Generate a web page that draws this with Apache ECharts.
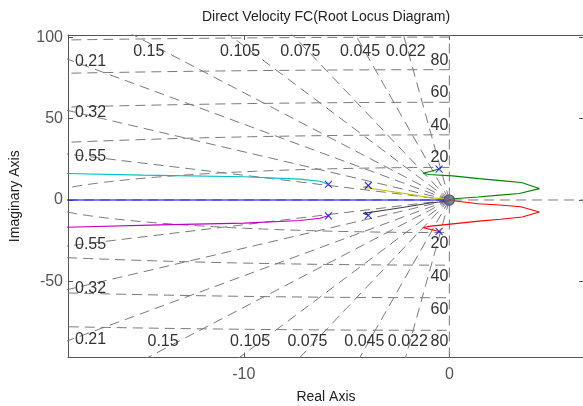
<!DOCTYPE html>
<html>
<head>
<meta charset="utf-8">
<script src="https://cdn.jsdelivr.net/npm/echarts@6/dist/echarts.min.js"></script>
<style>
  html, body { margin: 0; padding: 0; background: #ffffff; }
  #chart { width: 583px; height: 406px; }
</style>
</head>
<body>
<div id="chart"></div>
<script>
// ---- Root locus data (real, imaginary) ----
const polesUpper = [[-5.88, 9.6], [-3.94, 8.9], [-0.50, 19.0]];
const polesLower = [[-5.88, -9.7], [-3.94, -9.4], [-0.50, -19.3]];
const zeros = [[0, 0]];

const branchBlue = [[0, 0], [-18.6, 0]];
const branchGreen = [[-0.50, 19.0], [-0.90, 17.6], [-1.28, 16.4], [-1.00, 15.7], [0.15, 14.8],
  [1.45, 13.1], [2.50, 11.9], [3.50, 10.7], [4.38, 7.0], [3.40, 4.0], [2.45, 3.0],
  [1.40, 1.8], [0.20, 0.8], [0, 0]];
const branchRed = [[-0.50, -19.3], [-0.90, -18.1], [-1.28, -17.0], [-1.00, -16.2], [0.05, -14.8],
  [1.45, -13.0], [2.50, -11.8], [3.55, -10.4], [4.38, -7.4], [3.48, -4.1], [2.45, -3.1],
  [1.40, -2.3], [0.20, -0.5], [0, 0]];
const branchCyan = [[-5.88, 9.6], [-6.30, 11.5], [-7.27, 12.8], [-10.0, 14.3], [-14.9, 15.3], [-18.6, 16.3]];
const branchMagenta = [[-5.88, -9.7], [-6.30, -11.2], [-7.27, -12.6], [-10.0, -14.2], [-14.1, -15.3], [-18.6, -16.7]];
const branchYellow = [[-3.94, 8.9], [-4.20, 7.8], [-3.06, 5.7], [-1.92, 3.5], [-0.95, 1.4], [-0.14, 0.6], [0, 0]];
const branchDark = [[-3.94, -9.4], [-4.20, -8.2], [-3.00, -6.0], [-1.90, -3.8], [-0.95, -1.8], [-0.14, -0.8], [0, 0]];

// ---- s-plane grid values ----
const zetaValues = [0.022, 0.045, 0.075, 0.105, 0.15, 0.21, 0.32, 0.55];
const wnCircles = [20, 40, 60, 80, 100];
const wnLabels = [20, 40, 60, 80];

// ---- axis ticks ----
const xTicks = [-10, 0];
const yTicks = [-50, 0, 50, 100];

const XMIN = -18.55, XMAX = 6.55, YMIN = -96.7, YMAX = 101.3;
const GRID = { left: 68, top: 35, width: 516, height: 322.5 };
const FONT = '"Liberation Sans", Arial, Helvetica, sans-serif';
const GRID_COLOR = '#7a7a7a';
const AXIS_COLOR = '#555555';

const chart = echarts.init(document.getElementById('chart'), null, { renderer: 'canvas' });

function gridLine(data) {
  return {
    type: 'line', data: data, symbol: 'none', silent: true, clip: true, z: 1,
    lineStyle: { color: GRID_COLOR, width: 1, type: [10, 6] }
  };
}

function branch(data, color) {
  return {
    type: 'line', data: data, symbol: 'none', silent: true, clip: true, z: 3,
    lineStyle: { color: color, width: 1.1 }
  };
}

const series = [];

// damping-ratio rays from the origin
zetaValues.forEach(function (z) {
  const wd = Math.sqrt(1 - z * z);
  series.push(gridLine([[0, 0], [-z * 300, wd * 300]]));
  series.push(gridLine([[0, 0], [-z * 300, -wd * 300]]));
});
// natural-frequency semicircles in the left half plane
wnCircles.forEach(function (wn) {
  const pts = [];
  for (let a = 90; a <= 270; a += 1) {
    const r = a * Math.PI / 180;
    pts.push([wn * Math.cos(r), wn * Math.sin(r)]);
  }
  series.push(gridLine(pts));
});
// real and imaginary axes
series.push(gridLine([[XMIN, 0], [XMAX, 0]]));
series.push(gridLine([[0, YMIN], [0, YMAX]]));

// locus branches
series.push(branch(branchBlue, '#0000ff'));
series.push(branch(branchGreen, '#008000'));
series.push(branch(branchRed, '#ff0000'));
series.push(branch(branchCyan, '#00bfbf'));
series.push(branch(branchMagenta, '#bf00bf'));
series.push(branch(branchYellow, '#bfbf00'));
series.push(branch(branchDark, '#404040'));

// zero marker
series.push({
  type: 'scatter', data: zeros, symbol: 'circle', symbolSize: 10, silent: true, z: 4,
  itemStyle: { color: 'rgba(0,0,0,0)', borderColor: '#0000ff', borderWidth: 1.2 }
});
// grid hub at the origin
series.push({
  type: 'scatter', data: zeros, symbol: 'circle', symbolSize: 11, silent: true, z: 5,
  itemStyle: { color: '#6a6a6a' }
});
// pole markers
series.push({
  type: 'scatter', data: polesUpper.concat(polesLower), silent: true, z: 6,
  symbol: 'path://M0,0L10,10M10,0L0,10', symbolSize: 7,
  itemStyle: { color: 'rgba(0,0,0,0)', borderColor: '#0000ff', borderWidth: 1.1 }
});

function xAxisDef(pos, showLabel) {
  return {
    type: 'value', position: pos, min: XMIN, max: XMAX,
    name: showLabel ? 'Real Axis' : '', nameLocation: 'middle', nameGap: 33,
    nameTextStyle: { color: '#222222', fontSize: 14, fontFamily: FONT },
    axisLine: { show: true, onZero: false, lineStyle: { color: AXIS_COLOR, width: 1 } },
    axisTick: { show: true, inside: true, length: 5, customValues: xTicks, lineStyle: { color: AXIS_COLOR } },
    axisLabel: { show: showLabel, customValues: xTicks, color: '#555555', fontSize: 16, fontFamily: FONT, margin: 9 },
    splitLine: { show: false }
  };
}
function yAxisDef(pos, showLabel) {
  return {
    type: 'value', position: pos, min: YMIN, max: YMAX,
    name: showLabel ? 'Imaginary Axis' : '', nameLocation: 'middle', nameGap: 46,
    nameTextStyle: { color: '#222222', fontSize: 14, fontFamily: FONT },
    axisLine: { show: true, onZero: false, lineStyle: { color: AXIS_COLOR, width: 1 } },
    axisTick: { show: true, inside: true, length: 5, customValues: yTicks, lineStyle: { color: AXIS_COLOR } },
    axisLabel: { show: showLabel, customValues: yTicks, color: '#555555', fontSize: 16, fontFamily: FONT, margin: 5 },
    splitLine: { show: false }
  };
}

chart.setOption({
  animation: false,
  backgroundColor: '#ffffff',
  grid: { left: GRID.left, top: GRID.top, width: GRID.width, height: GRID.height,
    containLabel: false, outerBoundsMode: 'none' },
  xAxis: [xAxisDef('bottom', true), xAxisDef('top', false)],
  yAxis: [yAxisDef('left', true), yAxisDef('right', false)],
  series: series
});

// ---- grid annotations (damping and natural-frequency labels) ----
function toPx(p) { return chart.convertToPixel({ xAxisIndex: 0, yAxisIndex: 0 }, p); }
const O = toPx([0, 0]);
const gl = GRID.left, gt = GRID.top, gb = GRID.top + GRID.height;
const texts = [];
function addText(str, x, y, align) {
  texts.push({
    type: 'text', x: x, y: y, silent: true, z: 10,
    style: { text: str, fill: '#333333', font: '16px ' + FONT, textAlign: align, textVerticalAlign: 'middle' }
  });
}

zetaValues.forEach(function (z) {
  [1, -1].forEach(function (s) {
    const P = toPx([-z * 100, s * Math.sqrt(1 - z * z) * 100]);
    const dx = P[0] - O[0], dy = P[1] - O[1];
    const edgeY = s > 0 ? gt : gb;
    const xEdge = O[0] + (edgeY - O[1]) / dy * dx;
    const label = String(z);
    if (xEdge >= gl) {
      const rowY = s > 0 ? gt + 8 : gb - 8;
      const xr = O[0] + (rowY - O[1]) / dy * dx;
      addText(label, xr, s > 0 ? gt + 17 : gb - 16, 'center');
    } else {
      const yl = O[1] + (gl - O[0]) / dx * dy;
      addText(label, gl + 7, yl + (s > 0 ? 2 : -1), 'left');
    }
  });
});

wnLabels.forEach(function (wn) {
  const up = toPx([0, wn]);
  const dn = toPx([0, -wn]);
  addText(String(wn), O[0] - 1, up[1] - 9.5, 'right');
  addText(String(wn), O[0] - 1, dn[1] + 11.5, 'right');
});

texts.push({
  type: 'text', x: GRID.left + GRID.width / 2, y: 17, silent: true,
  style: { text: 'Direct Velocity FC(Root Locus Diagram)', fill: '#222222', font: '14px ' + FONT,
    textAlign: 'center', textVerticalAlign: 'middle' }
});

chart.setOption({ graphic: texts });
</script>
</body>
</html>
